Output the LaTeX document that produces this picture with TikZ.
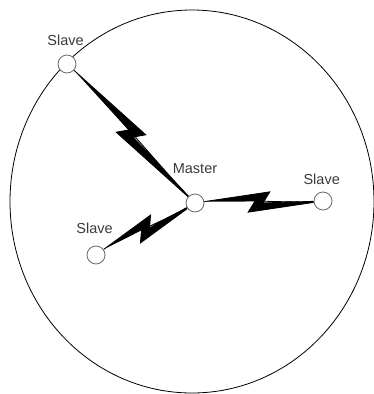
\documentclass[tikz,border=0pt]{standalone}
\usepackage{fontspec}
\setmainfont{Liberation Sans}
\usetikzlibrary{calc,backgrounds}
\definecolor{inkc}{HTML}{000000}
\definecolor{nodec}{HTML}{6A6A6A}
\definecolor{textc}{HTML}{3A3A3A}
\newcommand{\bolt}[2]{%
  \filldraw[boltl] (#1)
    -- ($(#1)!.5!(#2)!11pt!(#2)!10pt!90:(#2)$)
    -- ($(#1)!.5!(#2)!4pt!(#2)!1pt!-90:(#2)$)
    -- (#2)
    -- ($(#1)!.5!(#2)!11pt!(#1)!10pt!-90:(#2)$)
    -- ($(#1)!.5!(#2)!4pt!(#1)!1pt!90:(#2)$)
    -- cycle;}
\tikzset{
  stn/.style  ={circle,draw=nodec,line width=.8pt,fill=white,minimum size=18pt,inner sep=0pt},
  lbl/.style  ={anchor=base,text=textc,font=\fontsize{14.5}{16}\selectfont,inner sep=0pt},
  boltl/.style={fill=inkc,draw=inkc,line width=.8pt,line join=miter},
  rng/.style  ={draw=inkc,line width=.8pt},
}
\begin{document}
\begin{tikzpicture}[x=1pt,y=-1pt]
\useasboundingbox (0,0) rectangle (374,394);

% ---------- stations ---------------------------------------------------
\node[stn] (mst) at (195,203) {};
\node[stn] (slvtl) at (67,64) {};
\node[stn] (slvr) at (323,201) {};
\node[stn] (slvbl) at (96,255) {};

\node[lbl] (lmst) at (195,173.3) {Master};
\node[lbl] (lslvtl) at (65.5,45) {Slave};
\node[lbl] (lslvr) at (321.7,184) {Slave};
\node[lbl] (lslvbl) at (94.5,233.3) {Slave};

% ---------- range and radio links --------------------------------------
\begin{scope}[on background layer]
  \draw[rng] (192,201.5) ellipse [x radius=182,y radius=191.5];
  \bolt{slvtl}{mst}
  \bolt{mst}{slvr}
  \bolt{slvbl}{mst}
\end{scope}
\end{tikzpicture}
\end{document}
